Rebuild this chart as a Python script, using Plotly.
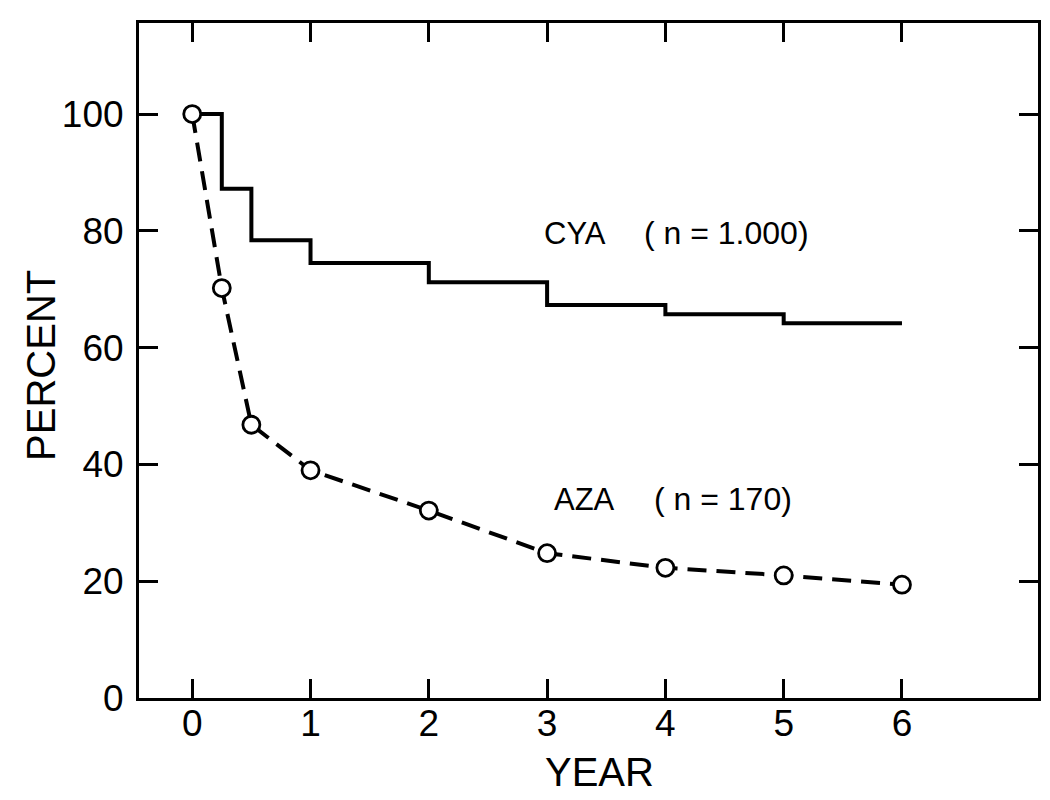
import plotly.graph_objects as go

# Data
cya_years = [0, 0.25, 0.5, 1, 2, 3, 4, 5, 6]
cya_percent = [100, 87.2, 78.4, 74.5, 71.2, 67.3, 65.7, 64.2, 64.2]

aza_years = [0, 0.25, 0.5, 1, 2, 3, 4, 5, 6]
aza_percent = [100, 70.2, 46.8, 39.0, 32.1, 24.8, 22.3, 21.0, 19.4]

x_ticks = [0, 1, 2, 3, 4, 5, 6]
y_ticks = [0, 20, 40, 60, 80, 100]

FONT = "Liberation Sans, Arial, Helvetica, sans-serif"
NB = "\u00a0"

fig = go.Figure()

fig.add_trace(go.Scatter(
    x=cya_years, y=cya_percent, mode="lines", line_shape="hv",
    line=dict(color="black", width=4), showlegend=False, hoverinfo="skip"))

fig.add_trace(go.Scatter(
    x=aza_years, y=aza_percent, mode="lines+markers",
    line=dict(color="black", width=4, dash="19px,10px"),
    marker=dict(symbol="circle", size=17, color="white",
                line=dict(color="black", width=2.8)),
    showlegend=False, hoverinfo="skip"))

name_font = dict(family=FONT, size=31, color="black")
n_font = dict(family=FONT, size=32, color="black")
fig.add_annotation(x=2.96, y=79.6, text="CYA", showarrow=False,
                   xanchor="left", yanchor="middle", font=name_font)
fig.add_annotation(x=3.80, y=79.6, text=f"({NB}n{NB}={NB}1.000)", showarrow=False,
                   xanchor="left", yanchor="middle", font=n_font)
fig.add_annotation(x=3.04, y=34.0, text="AZA", showarrow=False,
                   xanchor="left", yanchor="middle", font=name_font)
fig.add_annotation(x=3.89, y=34.0, text=f"({NB}n{NB}={NB}170)", showarrow=False,
                   xanchor="left", yanchor="middle", font=n_font)

# Axis titles placed as annotations (paper coordinates)
title_font = dict(family=FONT, size=40, color="black")
fig.add_annotation(xref="paper", yref="paper", x=0.512, y=-0.11, text="YEAR",
                   showarrow=False, xanchor="center", yanchor="middle", font=title_font)
fig.add_annotation(xref="paper", yref="paper", x=-0.109, y=0.492, text="PERCENT",
                   showarrow=False, xanchor="center", yanchor="middle",
                   textangle=-90, font=title_font)

axis_common = dict(
    showline=True, linecolor="black", linewidth=3, mirror="ticks",
    ticks="inside", ticklen=19, tickwidth=2.5, tickcolor="black",
    showgrid=False, zeroline=False, automargin=False,
    tickfont=dict(family=FONT, size=37, color="black"),
)

fig.update_xaxes(
    range=[-0.45, 7.15], tickvals=x_ticks, ticktext=[str(v) for v in x_ticks],
    ticklabelstandoff=-9,
    **axis_common)
fig.update_yaxes(
    range=[0, 115.6], tickvals=y_ticks, ticktext=[str(v) for v in y_ticks],
    ticklabelstandoff=5,
    **axis_common)

fig.update_layout(
    width=1050, height=800,
    margin=dict(l=131, r=20, t=15, b=110),
    paper_bgcolor="white", plot_bgcolor="white",
)

fig.write_html("out.html")
